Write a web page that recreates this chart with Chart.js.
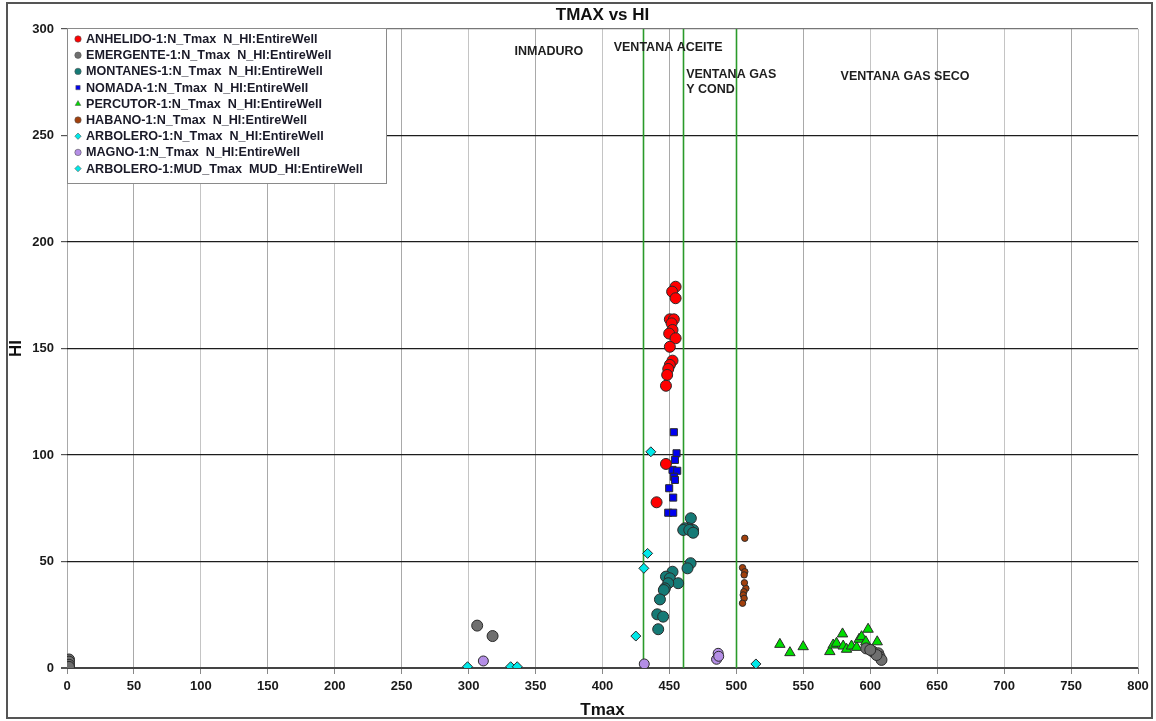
<!DOCTYPE html>
<html>
<head>
<meta charset="utf-8">
<title>TMAX vs HI</title>
<script src="https://cdn.jsdelivr.net/npm/chart.js"></script>
<style>
  html, body { margin: 0; padding: 0; background: #fff; }
  #wrap { width: 1156px; height: 721px; position: relative; }
</style>
</head>
<body>
<div id="wrap"><canvas id="tmaxHiChart"></canvas></div>
<script>
// Tmax / HI pairs per well
const anhelidoTmax = [454.6, 452, 454.6, 450.3, 453.3, 451.6, 452.3, 449.8, 454.6, 450.3, 452.3, 450.3, 449.1, 448.3, 447.4, 447.4, 440.4];
const anhelidoHI   = [179, 176.7, 173.6, 163.7, 163.7, 161.8, 158.7, 157, 154.8, 150.8, 144.3, 142.3, 140.4, 137.6, 132.5, 95.8, 77.8];

const emergenteTmax = [1.5, 1.5, 1.5, 1.5, 306.4, 317.9, 597, 602, 606, 607, 608.4, 604.7, 600];
const emergenteHI   = [4, 3, 1.5, 0.5, 19.9, 15, 9.2, 7.7, 6.9, 5.3, 3.8, 6.1, 8.5];

const montanesTmax = [466, 464, 461.5, 467.7, 460.3, 464.8, 467.7, 465.8, 463.5, 452.3, 447.4, 450.3, 456.5, 449.1, 446.6, 445.8, 442.9, 440.9, 445.3, 441.6];
const montanesHI   = [70.3, 65.6, 65.6, 64.8, 64.8, 64.8, 63.5, 49.2, 46.8, 45.2, 42.9, 42.1, 39.8, 39.8, 37.4, 36.6, 32.2, 25.2, 24.1, 18.2];

const nomadaTmax = [453.3, 455.3, 454.1, 452.3, 455.8, 453.3, 454.1, 449.8, 452.8, 449.1, 452.8];
const nomadaHI   = [110.7, 100.8, 97.7, 93, 92.6, 89.8, 88.3, 84.4, 80, 72.9, 72.9];

const percutorTmax = [532.5, 540, 549.9, 569.8, 572.3, 574.8, 579.3, 579.8, 582.3, 586, 589.8, 591.7, 593.5, 598.4, 596.7, 605.2];
const percutorHI   = [11.1, 7.2, 10, 7.7, 10.8, 11.6, 16, 10.3, 8.8, 10.3, 9.7, 13.5, 14.7, 18.2, 12.3, 12.3];

const habanoTmax = [506.3, 504.6, 506.3, 505.8, 507.1, 505.6, 505.1, 505.8, 504.6, 506];
const habanoHI   = [60.9, 47.1, 45.2, 43.7, 37.4, 35.8, 34.3, 32.7, 30.4, 40];

const arboleroTmax = [436.1, 433.7, 430.9, 424.9];
const arboleroHI   = [101.5, 53.8, 46.8, 15];

const magnoTmax = [311, 431.2, 486.4, 485.2, 486.8];
const magnoHI   = [3.3, 1.9, 6.9, 4.1, 5.5];

const arboleroMudTmax = [299.2, 331.4, 336.3, 514.6];
const arboleroMudHI   = [0.6, 0.6, 0.6, 1.9];

// maturity window limits (Tmax) and their labels
const windowLimits = [430, 460, 500];
const zoneLabels = [
  { text: 'INMADURO', x: 360, y: 289.5, align: 'center' },
  { text: 'VENTANA ACEITE', x: 449, y: 291.5, align: 'center' },
  { text: 'VENTANA GAS', x: 462.5, y: 278.5, align: 'left' },
  { text: 'Y COND', x: 462.5, y: 271.5, align: 'left' },
  { text: 'VENTANA GAS SECO', x: 626, y: 277.5, align: 'center' }
];

const xTicks = [0, 800, 50];
const yTicks = [0, 300, 50];

const FONT = '"Liberation Sans", Arial, sans-serif';

function pairs(xs, ys) {
  return xs.map((x, i) => ({ x: x, y: ys[i] }));
}

function series(label, xs, ys, color, style, radius) {
  return {
    label: label,
    data: pairs(xs, ys),
    backgroundColor: color,
    borderColor: '#2a2a2a',
    borderWidth: 1,
    pointStyle: style,
    pointRadius: radius,
    pointHoverRadius: radius
  };
}

const datasets = [
  series('ANHELIDO-1:N_Tmax  N_HI:EntireWell', anhelidoTmax, anhelidoHI, '#ff0000', 'circle', 5.5),
  series('EMERGENTE-1:N_Tmax  N_HI:EntireWell', emergenteTmax, emergenteHI, '#6f6f6f', 'circle', 5.5),
  series('MONTANES-1:N_Tmax  N_HI:EntireWell', montanesTmax, montanesHI, '#157a76', 'circle', 5.5),
  series('NOMADA-1:N_Tmax  N_HI:EntireWell', nomadaTmax, nomadaHI, '#0000f0', 'rect', 5),
  series('PERCUTOR-1:N_Tmax  N_HI:EntireWell', percutorTmax, percutorHI, '#00dd00', 'triangle', 6),
  series('HABANO-1:N_Tmax  N_HI:EntireWell', habanoTmax, habanoHI, '#a2400c', 'circle', 3.2),
  series('ARBOLERO-1:N_Tmax  N_HI:EntireWell', arboleroTmax, arboleroHI, '#00e8e8', 'rectRot', 5),
  series('MAGNO-1:N_Tmax  N_HI:EntireWell', magnoTmax, magnoHI, '#b48ee6', 'circle', 5),
  series('ARBOLERO-1:MUD_Tmax  MUD_HI:EntireWell', arboleroMudTmax, arboleroMudHI, '#00e8e8', 'rectRot', 5)
];

// green vertical lines for the maturity windows
const windowLinesPlugin = {
  id: 'windowLines',
  beforeDatasetsDraw(chart) {
    const { ctx, chartArea, scales } = chart;
    ctx.save();
    ctx.strokeStyle = '#2a9a2a';
    ctx.lineWidth = 1.6;
    windowLimits.forEach(v => {
      const px = Math.round(scales.x.getPixelForValue(v)) + 0.5;
      ctx.beginPath();
      ctx.moveTo(px, chartArea.top);
      ctx.lineTo(px, chartArea.bottom);
      ctx.stroke();
    });
    ctx.fillStyle = '#1e1e1e';
    ctx.font = 'bold 12.5px ' + FONT;
    ctx.textBaseline = 'middle';
    zoneLabels.forEach(z => {
      ctx.textAlign = z.align;
      ctx.fillText(z.text, scales.x.getPixelForValue(z.x), scales.y.getPixelForValue(z.y));
    });
    ctx.restore();
  }
};

// titles, frame and the legend box inside the plot
const decorPlugin = {
  id: 'decor',
  afterDraw(chart) {
    const { ctx, chartArea } = chart;
    ctx.save();

    ctx.strokeStyle = '#555';
    ctx.lineWidth = 2;
    ctx.strokeRect(7, 3, 1145, 715);

    ctx.fillStyle = '#111';
    ctx.textAlign = 'center';
    ctx.textBaseline = 'middle';
    ctx.font = 'bold 17px ' + FONT;
    ctx.fillText('TMAX vs HI', (chartArea.left + chartArea.right) / 2, 15);
    ctx.fillText('Tmax', (chartArea.left + chartArea.right) / 2, 710);
    ctx.save();
    ctx.translate(16, (chartArea.top + chartArea.bottom) / 2);
    ctx.rotate(-Math.PI / 2);
    ctx.fillText('HI', 0, 0);
    ctx.restore();

    // legend
    const lx = 67.5, ly = 28.5, lw = 319, lh = 155;
    ctx.fillStyle = '#fff';
    ctx.fillRect(lx, ly, lw, lh);
    ctx.strokeStyle = '#8a8a8a';
    ctx.lineWidth = 1;
    ctx.strokeRect(lx, ly, lw, lh);
    ctx.font = 'bold 12.6px ' + FONT;
    ctx.textAlign = 'left';
    chart.data.datasets.forEach((ds, i) => {
      const y = 39 + i * 16.2;
      ctx.fillStyle = ds.backgroundColor;
      ctx.strokeStyle = '#555';
      ctx.lineWidth = 0.6;
      Chart.helpers.drawPoint(ctx, {
        pointStyle: ds.pointStyle,
        radius: ds.pointStyle === 'rect' ? 3 : 3.2,
        rotation: 0,
        borderWidth: 0.6
      }, 78, y);
      ctx.fillStyle = '#1a1a28';
      ctx.fillText(ds.label, 86, y + 0.5);
    });
    ctx.restore();
  }
};

new Chart(document.getElementById('tmaxHiChart'), {
  type: 'scatter',
  data: { datasets: datasets },
  plugins: [windowLinesPlugin, decorPlugin],
  options: {
    responsive: true,
    maintainAspectRatio: false,
    animation: false,
    layout: { padding: { top: 29, right: 18, left: 0, bottom: 0 } },
    plugins: {
      legend: { display: false },
      title: { display: false },
      tooltip: { enabled: false }
    },
    scales: {
      x: {
        type: 'linear',
        min: xTicks[0],
        max: xTicks[1],
        afterFit(scale) { scale.height = 53; },
        ticks: {
          stepSize: xTicks[2],
          padding: 5,
          color: '#1a1a1a',
          font: { family: FONT, size: 13, weight: 'bold' }
        },
        grid: {
          color: ctx => (ctx.tick && ctx.tick.value % 100 === 0 && ctx.tick.value !== 0 ? '#c4c4c4' : '#a9a9a9'),
          lineWidth: 1,
          tickLength: 6,
          tickColor: '#888'
        },
        border: { display: false }
      },
      y: {
        type: 'linear',
        min: yTicks[0],
        max: yTicks[1],
        afterFit(scale) { scale.width = 67; },
        ticks: {
          stepSize: yTicks[2],
          padding: 7,
          color: '#1a1a1a',
          font: { family: FONT, size: 13, weight: 'bold' }
        },
        grid: {
          color: ctx => (ctx.tick && ctx.tick.value === 0 ? '#444' : (ctx.tick && ctx.tick.value === 300 ? '#777' : '#1c1c1c')),
          lineWidth: ctx => (ctx.tick && ctx.tick.value === 0 ? 2 : 1.2),
          tickLength: 6,
          tickColor: '#555'
        },
        border: { display: false }
      }
    }
  }
});
</script>
</body>
</html>
